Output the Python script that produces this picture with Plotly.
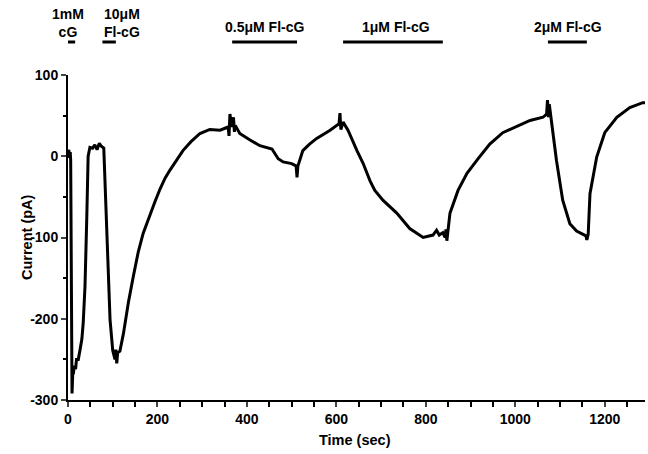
import plotly.graph_objects as go

# Trace (time in s, current in pA)
time_s = [0, 2, 3, 5, 6, 8, 9, 11, 12, 14, 17, 19, 23, 27, 31, 34, 38, 42, 45, 49, 55, 60, 65, 70, 75, 80,
          83, 87, 90, 94, 100, 105, 107, 109, 111, 116, 124, 135, 146, 157, 168, 183, 195, 206, 217, 228,
          242, 257, 275, 295, 317, 340, 358, 360, 362, 366, 370, 372, 374, 384, 407, 429, 456, 470, 481,
          500, 510, 512, 514, 525, 540, 556, 586, 600, 606, 608, 610, 615, 620, 626, 646, 660, 675, 686,
          704, 735, 764, 794, 816, 824, 830, 838, 843, 845, 847, 854, 872, 892, 917, 943, 972, 1004,
          1033, 1062, 1070, 1072, 1074, 1076, 1078, 1092, 1106, 1122, 1137, 1150, 1158, 1160, 1163,
          1167, 1182, 1200, 1227, 1256, 1285, 1290]
current_pa = [0, 8, -2, 5, -5, -285, -292, -262, -268, -258, -262, -250, -250, -238, -225, -205, -160, -75,
              0, 11, 10, 14, 8, 16, 12, 10,
              -38, -100, -140, -201, -239, -250, -238, -255, -242, -240, -218, -180, -148, -118, -95, -72, -55, -40, -27, -17,
              -5, 7, 18, 28, 33, 32, 36, 25, 52, 36, 48, 30, 38, 28, 20, 13, 9, -3, -7,
              -9, -12, -26, -12, 7, 15, 22, 32, 37, 40, 53, 33, 42, 37, 32, 7, -9, -30, -42,
              -54, -70, -89, -100, -97, -91, -97, -94, -100, -90, -104, -70, -42, -21, -3, 15, 29, 37,
              44, 48, 52, 69, 48, 64, 55, -5, -54, -83, -92, -96, -98, -103, -96,
              -46, -1, 29, 48, 60, 66, 66]

# Application bars (start, end in s) and labels
bar_starts = [0, 77, 367, 615, 1073]
bar_ends = [16, 107, 512, 838, 1160]
bar_labels = ["1mM<br>cG", "10μM<br>Fl-cG", "0.5μM Fl-cG", "1μM Fl-cG", "2μM Fl-cG"]
label_x = [0, 77, 439, 733, 1117]
label_anchor = ["center", "left", "center", "center", "center"]

x_ticks = [0, 200, 400, 600, 800, 1000, 1200]
y_ticks = [-300, -200, -100, 0, 100]
y_ticktext = ["-300", "-200", "-100", "0", "100"]

FONT = "Liberation Sans Narrow, Arial Narrow, Liberation Sans, Arial, sans-serif"
W, H = 648, 454
L, R, T, B = 68, 3, 75, 54
PW = W - L - R
PH = H - T - B

def py(p):
    # pixel row -> paper y
    return (H - B - p) / PH

def px(p):
    return (p - L) / PW

fig = go.Figure()
fig.add_trace(go.Scatter(x=time_s, y=current_pa, mode="lines",
                         line=dict(color="black", width=3), showlegend=False,
                         hoverinfo="skip"))

for s, e in zip(bar_starts, bar_ends):
    fig.add_shape(type="line", xref="x", yref="paper", x0=s, x1=e, y0=py(42), y1=py(42),
                  line=dict(color="black", width=3))

label_y = [py(23), py(23), py(27), py(27), py(27)]
for lx, ly, txt, anc in zip(label_x, label_y, bar_labels, label_anchor):
    fig.add_annotation(x=lx, y=ly, xref="x", yref="paper", text=txt, showarrow=False,
                       font=dict(family=FONT, size=14, color="black", weight="bold"),
                       xanchor=anc, yanchor="middle", align=anc if anc != "center" else "center")

fig.add_annotation(x=px(355), y=py(440), xref="paper", yref="paper",
                   text="Time (sec)", showarrow=False, xanchor="center", yanchor="middle",
                   font=dict(family=FONT, size=14.5, color="black", weight="bold"))
fig.add_annotation(x=px(27), y=py(237), xref="paper", yref="paper",
                   text="Current (pA)", showarrow=False, xanchor="center", yanchor="middle",
                   textangle=-90,
                   font=dict(family=FONT, size=14.5, color="black", weight="bold"))

fig.update_xaxes(range=[0, 1290], tickvals=x_ticks, ticks="outside", ticklen=5, tickwidth=2,
                 showline=True, linecolor="black", linewidth=2, showgrid=False, zeroline=False,
                 automargin=False,
                 minor=dict(dtick=50, tick0=0, ticks="outside", ticklen=5, tickwidth=1.5, tickcolor="black", showgrid=False),
                 tickfont=dict(family=FONT, size=14, color="black", weight="bold"))
fig.update_yaxes(range=[-300, 100], tickvals=y_ticks, ticktext=y_ticktext, ticks="outside", ticklen=5, tickwidth=2,
                 showline=True, linecolor="black", linewidth=2, showgrid=False, zeroline=False,
                 automargin=False,
                 minor=dict(dtick=50, tick0=0, ticks="outside", ticklen=3, tickwidth=1.5, tickcolor="black", showgrid=False),
                 tickfont=dict(family=FONT, size=14, color="black", weight="bold"))

fig.update_layout(width=W, height=H, margin=dict(l=L, r=R, t=T, b=B),
                  paper_bgcolor="white", plot_bgcolor="white", font=dict(family=FONT))

fig.write_html("out.html", config={"displayModeBar": False},
               post_script="document.body.style.margin='0';document.body.style.overflow='hidden';")
